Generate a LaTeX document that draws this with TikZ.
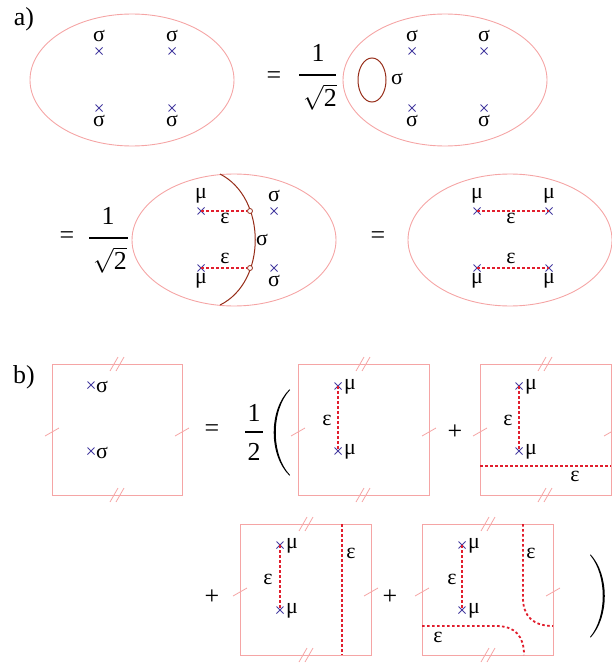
\documentclass[tikz,border=0pt]{standalone}
\usepackage{fontspec}
\setmainfont{LiberationSerif-Regular.ttf}
\definecolor{pinkc}{RGB}{245,165,165}
\definecolor{crossc}{RGB}{70,60,160}
\definecolor{dotc}{RGB}{225,30,45}
\definecolor{brownc}{RGB}{150,45,25}
\begin{document}
\begin{tikzpicture}[x=1bp,y=-1bp,
  frame/.style={draw=pinkc,line width=0.9bp},
  lab/.style={inner sep=0pt,font=\fontsize{22}{24}\selectfont},
  big/.style={inner sep=0pt,font=\fontsize{26}{28}\selectfont},
  epsline/.style={draw=dotc,line width=1.8bp,dash pattern=on 2.6bp off 2.4bp},
  loopline/.style={draw=brownc,line width=1bp},
  xmark/.pic={\draw[crossc,line width=0.8bp] (-3.5,-3.5)--(3.5,3.5) (-3.5,3.5)--(3.5,-3.5);},
  tickone/.pic={\draw[pinkc,line width=0.8bp] (-7,4)--(7,-4);},
  ticktwo/.pic={\draw[pinkc,line width=0.8bp] (-7,7)--(1,-7) (-1,7)--(7,-7);},
  paren/.style={fill=black},
  fracbar/.style={line width=1.4bp},
  knot/.style={circle,draw=brownc,fill=white,line width=0.8bp,inner sep=0pt,minimum size=5bp}
]
\useasboundingbox (0,0) rectangle (612,663);

% ---------------- part a) ----------------
\node[big] (la) at (24,19) {a)};

% ellipse 1
\draw[frame] (132,80) ellipse [x radius=102,y radius=66];
\foreach \n/\x/\y in {p1/99/51,p2/172/51,p3/99/108,p4/172/108}{\coordinate (\n) at (\x,\y); \pic at (\n) {xmark};}
\node[lab] (s1) at (99,36) {σ};
\node[lab] (s2) at (172,36) {σ};
\node[lab] (s3) at (99,121) {σ};
\node[lab] (s4) at (172,121) {σ};

\node[big] (eq1) at (274,78) {=};
\node[big] (f1n) at (318,53) {1};
\coordinate (f1l) at (299,75); \coordinate (f1r) at (336,75);
\draw[fracbar] (f1l) -- (f1r);
\node[big] (f1d) at (320,97) {$\sqrt{\hbox{2}}$};

% ellipse 2
\draw[frame] (445,80) ellipse [x radius=102,y radius=66];
\foreach \n/\x/\y in {q1/412/51,q2/484/51,q3/412/108,q4/484/108}{\coordinate (\n) at (\x,\y); \pic at (\n) {xmark};}
\node[lab] (t1) at (412,36) {σ};
\node[lab] (t2) at (484,36) {σ};
\node[lab] (t3) at (412,121) {σ};
\node[lab] (t4) at (484,121) {σ};
\draw[loopline] (372,80) ellipse [x radius=14,y radius=22];
\node[lab] (tl) at (397,79) {σ};

% row 2
\node[big] (eq2) at (67,238) {=};
\node[big] (f2n) at (108,216) {1};
\coordinate (f2l) at (89,238); \coordinate (f2r) at (128,238);
\draw[fracbar] (f2l) -- (f2r);
\node[big] (f2d) at (110,260) {$\sqrt{\hbox{2}}$};

% ellipse 3
\draw[frame] (234,240) ellipse [x radius=102,y radius=66];
\draw[loopline] (220,174) .. controls (267,198) and (267,282) .. (220,305);
\foreach \n/\x/\y in {r1/201/211,r2/274/211,r3/201/268,r4/274/268}{\coordinate (\n) at (\x,\y); \pic at (\n) {xmark};}
\node[knot] (o1) at (250,211) {};
\node[knot] (o2) at (250,268) {};
\draw[epsline] (r1) -- (o1);
\draw[epsline] (r3) -- (o2);
\node[lab] (u1) at (201,196) {μ};
\node[lab] (u2) at (274,196) {σ};
\node[lab] (u3) at (201,281) {μ};
\node[lab] (u4) at (274,281) {σ};
\node[lab] (ue1) at (225,218) {ε};
\node[lab] (ue2) at (225,258) {ε};
\node[lab] (us) at (262,240) {σ};

\node[big] (eq3) at (378,238) {=};

% ellipse 4
\draw[frame] (510,240) ellipse [x radius=102,y radius=66];
\foreach \n/\x/\y in {v1/477/211,v2/549/211,v3/477/268,v4/549/268}{\coordinate (\n) at (\x,\y); \pic at (\n) {xmark};}
\draw[epsline] (v1) -- (v2);
\draw[epsline] (v3) -- (v4);
\node[lab] (w1) at (477,196) {μ};
\node[lab] (w2) at (549,196) {μ};
\node[lab] (w3) at (477,281) {μ};
\node[lab] (w4) at (549,281) {μ};
\node[lab] (we1) at (511,218) {ε};
\node[lab] (we2) at (511,258) {ε};

% ---------------- part b) ----------------
\node[big] (lb) at (24,377) {b)};

% square 1
\draw[frame] (52,364) rectangle (182,495);
\pic at (117,364) {ticktwo}; \pic at (117,495) {ticktwo};
\pic at (52,432) {tickone}; \pic at (182,432) {tickone};
\coordinate (a1) at (91,385); \pic at (a1) {xmark};
\coordinate (a2) at (91,451); \pic at (a2) {xmark};
\node[lab,anchor=west] (as1) at (96,387) {σ};
\node[lab,anchor=west] (as2) at (96,453) {σ};

\node[big] (eq4) at (212,431) {=};
\node[big] (h1) at (254,413) {1};
\coordinate (hl) at (245,432); \coordinate (hr) at (263,432);
\draw[fracbar] (hl) -- (hr);
\node[big] (h2) at (254,452) {2};
% big left paren
\fill[paren] (290,390) .. controls (271,410) and (271,455) .. (290,475)
  -- (289.4,475.6) .. controls (268.5,455) and (268.5,410) .. (289.4,389.4) -- cycle;

% square 2
\draw[frame] (298,364) rectangle (429,495);
\pic at (363,364) {ticktwo}; \pic at (363,495) {ticktwo};
\pic at (298,432) {tickone}; \pic at (429,432) {tickone};
\coordinate (b1) at (338,386); \pic at (b1) {xmark};
\coordinate (b2) at (338,451); \pic at (b2) {xmark};
\draw[epsline] (b1) -- (b2);
\node[lab,anchor=west] (bm1) at (344,387) {μ};
\node[lab,anchor=west] (bm2) at (344,452) {μ};
\node[lab] (be) at (327,420) {ε};

\node[big] (pl1) at (455,432) {+};

% square 3
\draw[frame] (480,364) rectangle (611,495);
\pic at (545,364) {ticktwo}; \pic at (545,495) {ticktwo};
\pic at (480,432) {tickone}; \pic at (611,432) {tickone};
\coordinate (c1) at (519,386); \pic at (c1) {xmark};
\coordinate (c2) at (519,451); \pic at (c2) {xmark};
\draw[epsline] (c1) -- (c2);
\coordinate (cl) at (480,466); \coordinate (cr) at (611,466);
\draw[epsline] (cl) -- (cr);
\node[lab,anchor=west] (cm1) at (525,387) {μ};
\node[lab,anchor=west] (cm2) at (525,452) {μ};
\node[lab] (ce1) at (508,420) {ε};
\node[lab] (ce2) at (575,476) {ε};

% row 4
\node[big] (pl2) at (212,597) {+};

% square 4
\draw[frame] (240,524) rectangle (371,655);
\pic at (306,524) {ticktwo}; \pic at (306,655) {ticktwo};
\pic at (240,592) {tickone}; \pic at (371,592) {tickone};
\coordinate (d1) at (280,545); \pic at (d1) {xmark};
\coordinate (d2) at (280,610); \pic at (d2) {xmark};
\draw[epsline] (d1) -- (d2);
\coordinate (dt) at (342,524); \coordinate (db) at (342,655);
\draw[epsline] (dt) -- (db);
\node[lab,anchor=west] (dm1) at (286,546) {μ};
\node[lab,anchor=west] (dm2) at (286,611) {μ};
\node[lab] (de1) at (268,579) {ε};
\node[lab] (de2) at (351,553) {ε};

\node[big] (pl3) at (390,597) {+};

% square 5
\draw[frame] (422,524) rectangle (553,655);
\pic at (488,524) {ticktwo}; \pic at (488,655) {ticktwo};
\pic at (422,592) {tickone}; \pic at (553,592) {tickone};
\coordinate (e1) at (462,545); \pic at (e1) {xmark};
\coordinate (e2) at (462,610); \pic at (e2) {xmark};
\draw[epsline] (e1) -- (e2);
\coordinate (et) at (523,524); \coordinate (er) at (553,626);
\draw[epsline] (et) -- (523,598) .. controls (523,616) and (533,626) .. (er);
\coordinate (el) at (422,626); \coordinate (eb) at (524,655);
\draw[epsline] (el) -- (496,626) .. controls (515,626) and (524,636) .. (eb);
\node[lab,anchor=west] (em1) at (468,546) {μ};
\node[lab,anchor=west] (em2) at (468,611) {μ};
\node[lab] (ee1) at (452,579) {ε};
\node[lab] (ee2) at (531,553) {ε};
\node[lab] (ee3) at (438,637) {ε};

% big right paren
\fill[paren] (590,555) .. controls (607,575) and (607,617) .. (590,637)
  -- (590.6,637.6) .. controls (609.5,617) and (609.5,575) .. (590.6,554.4) -- cycle;
\end{tikzpicture}
\end{document}
